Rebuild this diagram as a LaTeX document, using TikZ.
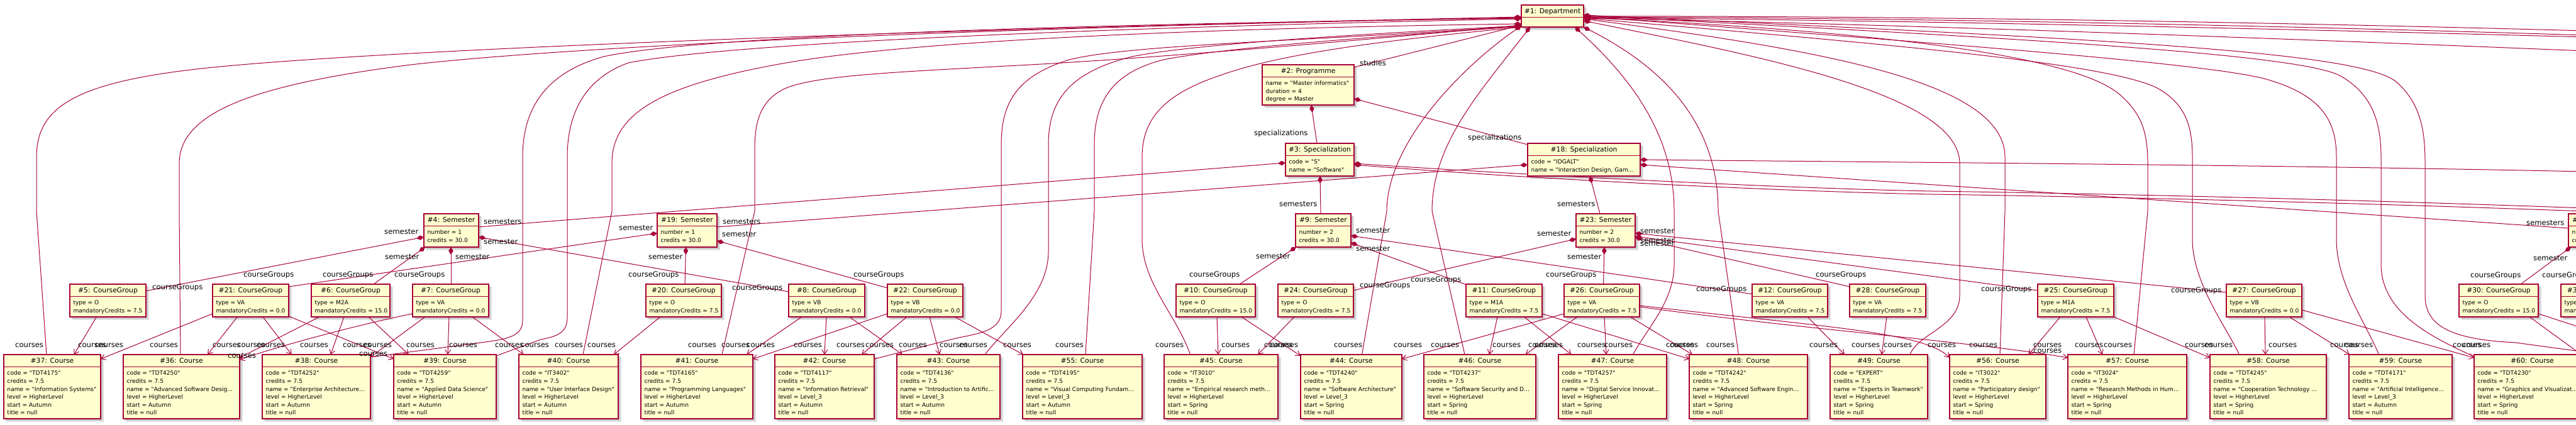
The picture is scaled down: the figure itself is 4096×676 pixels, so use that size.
\documentclass[tikz,border=0pt]{standalone}
\usepackage{fontspec}
\newfontfamily\dv{DejaVu Sans}
\usetikzlibrary{arrows.meta,calc}
\definecolor{lc}{RGB}{168,0,54}
\definecolor{boxfill}{RGB}{254,254,206}
\pgfdeclarelayer{shadowlayer}
\pgfdeclarelayer{linelayer}
\pgfsetlayers{shadowlayer,linelayer,main}
\tikzset{
  link/.style={draw=lc, line width=1pt},
  comp/.style={link, {Diamond[length=12pt,width=7.5pt]}-},
  assoc/.style={link, -{Straight Barb[length=7pt,width=9pt]}},
  objbox/.style={draw=lc, line width=1.4pt, fill=boxfill, rectangle, inner sep=0pt, outer sep=0pt},
  objline/.style={draw=lc, line width=1.2pt},
  titletxt/.style={font=\dv\fontsize{10.8}{13}\selectfont, inner sep=0pt, anchor=base},
  attrtxt/.style={inner sep=0pt, anchor=base west},
  lbl/.style={font=\dv\fontsize{11.6}{14}\selectfont, inner sep=0pt, anchor=base west},
}
\newcommand{\umlobj}[7]{%
  \node[objbox, minimum width=#4pt, minimum height=#5pt, anchor=north west] (#1) at (#2,#3) {};
  \begin{pgfonlayer}{shadowlayer}
    \fill[black, opacity=0.12] ($(#1.north west)+(2,2)$) rectangle ($(#1.south east)+(3,3)$);
    \fill[black, opacity=0.12] ($(#1.north west)+(4,4)$) rectangle ($(#1.south east)+(5,5)$);
  \end{pgfonlayer}
  \draw[objline] ($(#1.north west)+(0,19.3)$) -- ($(#1.north east)+(0,19.3)$);
  \node[titletxt] (#1-t) at ($(#1.north)+(0,13.6)$) {#6};
  \node[attrtxt] (#1-a) at ($(#1.north west)+(5.3,32.8)$) {\parbox[t]{300pt}{\dv\fontsize{9.1}{12.6}\selectfont\raggedright #7}};%
}
\newcommand{\cgroup}[5]{\umlobj{g#1}{#2}{452}{#3}{52}{\##1: CourseGroup}{type = #4\\mandatoryCredits = #5}}
\newcommand{\course}[7]{\umlobj{c#1}{#2}{564}{#3}{102}{\##1: Course}{code = "#4"\\credits = 7.5\\name = #5\\level = #6\\start = #7\\title = null}}
\newcommand{\semobj}[5]{\umlobj{s#1}{#2}{340}{#3}{53}{\##1: Semester}{number = #4\\credits = #5}}

\begin{document}
\begin{tikzpicture}[x=1pt,y=-1pt]
\useasboundingbox (0,0) rectangle (4096,676);

% ---------- objects ----------
\node[objbox, minimum width=99pt, minimum height=35pt, anchor=north west] (dep) at (2419,8) {};
\begin{pgfonlayer}{shadowlayer}
  \fill[black, opacity=0.12] ($(dep.north west)+(2,2)$) rectangle ($(dep.south east)+(3,3)$);
  \fill[black, opacity=0.12] ($(dep.north west)+(4,4)$) rectangle ($(dep.south east)+(5,5)$);
\end{pgfonlayer}
\draw[objline] ($(dep.north west)+(0,19.5)$) -- ($(dep.north east)+(0,19.5)$);
\node[titletxt] (dep-t) at ($(dep.north)+(0,13.8)$) {\#1: Department};

\umlobj{prog}{2007}{103}{146}{64}{\#2: Programme}{name = "Master informatics"\\duration = 4\\degree = Master}
\umlobj{sp3}{2044}{228}{109}{52}{\#3: Specialization}{code = "S"\\name = "Software"}
\umlobj{sp18}{2429}{228}{179}{52}{\#18: Specialization}{code = "IDGALT"\\name = "Interaction Design, Gam...}

\semobj{4}{674}{87}{1}{30.0}
\semobj{19}{1045}{95}{1}{30.0}
\semobj{9}{2060}{88}{2}{30.0}
\semobj{23}{2506}{94}{2}{30.0}
\semobj{29}{4084}{95}{3}{30.0}

\cgroup{5}{111}{121}{O}{7.5}
\cgroup{21}{338}{121}{VA}{0.0}
\cgroup{6}{495}{125}{M2A}{15.0}
\cgroup{7}{656}{121}{VA}{0.0}
\cgroup{20}{1027}{120}{O}{7.5}
\cgroup{8}{1254}{121}{VB}{0.0}
\cgroup{22}{1411}{120}{VB}{0.0}
\cgroup{10}{1870}{126}{O}{15.0}
\cgroup{24}{2032}{120}{O}{7.5}
\cgroup{11}{2331}{121}{M1A}{7.5}
\cgroup{26}{2487}{120}{VA}{7.5}
\cgroup{12}{2786}{120}{VA}{7.5}
\cgroup{28}{2941}{121}{VA}{7.5}
\cgroup{25}{3240}{121}{M1A}{7.5}
\cgroup{27}{3540}{120}{VB}{0.0}
\cgroup{30}{3910}{126}{O}{15.0}
\cgroup{31}{4072}{121}{VA}{0.0}

\course{37}{6}{154}{TDT4175}{"Information Systems"}{HigherLevel}{Autumn}
\course{36}{196}{185}{TDT4250}{"Advanced Software Desig...}{HigherLevel}{Autumn}
\course{38}{417}{172}{TDT4252}{"Enterprise Architecture...}{HigherLevel}{Autumn}
\course{39}{626}{163}{TDT4259}{"Applied Data Science"}{HigherLevel}{Autumn}
\course{40}{825}{158}{IT3402}{"User Interface Design"}{HigherLevel}{Autumn}
\course{41}{1019}{178}{TDT4165}{"Programming Languages"}{HigherLevel}{Autumn}
\course{42}{1232}{158}{TDT4117}{"Information Retrieval"}{Level\_3}{Autumn}
\course{43}{1426}{164}{TDT4136}{"Introduction to Artific...}{Level\_3}{Autumn}
\course{55}{1626}{190}{TDT4195}{"Visual Computing Fundam...}{Level\_3}{Autumn}
\course{45}{1851}{181}{IT3010}{"Empirical research meth...}{HigherLevel}{Spring}
\course{44}{2068}{161}{TDT4240}{"Software Architecture"}{Level\_3}{Spring}
\course{46}{2264}{178}{TDT4237}{"Software Security and D...}{HigherLevel}{Spring}
\course{47}{2478}{172}{TDT4257}{"Digital Service Innovat...}{HigherLevel}{Spring}
\course{48}{2686}{188}{TDT4242}{"Advanced Software Engin...}{HigherLevel}{Spring}
\course{49}{2910}{155}{EXPERT}{"Experts in Teamwork"}{HigherLevel}{Spring}
\course{56}{3100}{153}{IT3022}{"Participatory design"}{HigherLevel}{Spring}
\course{57}{3288}{189}{IT3024}{"Research Methods in Hum...}{HigherLevel}{Spring}
\course{58}{3514}{185}{TDT4245}{"Cooperation Technology ...}{HigherLevel}{Spring}
\course{59}{3735}{164}{TDT4171}{"Artificial Intelligence...}{Level\_3}{Autumn}
\course{60}{3934}{185}{TDT4230}{"Graphics and Visualizat...}{HigherLevel}{Spring}

% off-page ends
\coordinate (offa) at (4110,331);
\coordinate (offb) at (4110,336);
\coordinate (offc) at (4110,273);
\coordinate (offd) at (4110,49);
\coordinate (offe) at (4110,56);
\coordinate (offf) at (4110,59);
\coordinate (offg) at (4110,81);
\coordinate (offh) at (4110,523);
\coordinate (offi) at (4110,568);
\coordinate (offu) at (4110,560);

% ---------- connectors ----------
\begin{pgfonlayer}{linelayer}
% department - programme - specializations - semesters
\draw[comp] ($(dep.north west)+(0,32)$) -- ($(prog.north east)+(0,4)$);
\draw[comp] ($(prog.south west)+(78,0)$) -- ($(sp3.north west)+(50,0)$);
\draw[comp] ($(prog.north east)+(0,54)$) -- ($(sp18.north west)+(0,2)$);
\draw[comp] ($(sp3.north west)+(0,31)$) -- ($(s4.north east)+(0,21)$);
\draw[comp] ($(sp3.south west)+(55,0)$) -- ($(s9.north west)+(40,0)$);
\draw[comp] ($(sp3.north east)+(0,32)$) .. controls (2450,280) and (2850,300) .. (3072,304) .. controls (3400,309) and (3750,318) .. (offa);
\draw[comp] ($(sp3.north east)+(0,34)$) .. controls (2450,286) and (2850,305) .. (3072,309) .. controls (3400,314) and (3750,323) .. (offb);
\draw[comp] ($(sp18.north west)+(0,34)$) -- ($(s19.north east)+(0,21)$);
\draw[comp] ($(sp18.south west)+(99,0)$) -- ($(s23.north west)+(38,0)$);
\draw[comp] ($(sp18.north east)+(0,34)$) -- ($(s29.north west)+(0,23)$);
\draw[comp] ($(sp18.north east)+(0,26)$) .. controls (3000,258) and (3600,262) .. (offc);

% semesters - course groups
\draw[comp] ($(s4.north west)+(0,37)$) -- ($(g5.north east)+(0,10.7)$);
\draw[comp] ($(s4.south west)+(2,0)$) -- ($(g6.north west)+(99,0)$);
\draw[comp] ($(s4.south west)+(43,0)$) -- ($(g7.north west)+(61,0)$);
\draw[comp] ($(s4.north east)+(0,37)$) -- ($(g8.north west)+(0,12)$);
\draw[comp] ($(s19.north west)+(0,31)$) -- ($(g21.north east)+(0,4)$);
\draw[comp] ($(s19.south west)+(45.6,0)$) -- ($(g20.north west)+(62,0)$);
\draw[comp] ($(s19.north east)+(0,43)$) -- ($(g22.north west)+(0,6)$);
\draw[comp] ($(s9.south west)+(1,0)$) -- ($(g10.north west)+(101,0)$);
\draw[comp] ($(s9.north east)+(0,35)$) -- ($(g12.north west)+(0,15.7)$);
\draw[comp] ($(s9.north east)+(0,46)$) -- ($(g11.north west)+(0,0.7)$);
\draw[comp] ($(s23.north west)+(0,40)$) -- ($(g24.north east)+(0,10)$);
\draw[comp] ($(s23.south west)+(45,0)$) -- ($(g26.north west)+(62.5,0)$);
\draw[comp] ($(s23.north east)+(0,38)$) -- ($(g28.north west)+(0,4)$);
\draw[comp] ($(s23.north east)+(0,36)$) -- ($(g25.north west)+(0,10)$);
\draw[comp] ($(s23.north east)+(0,31)$) -- ($(g27.north west)+(0,13)$);
\draw[comp] ($(s29.south west)+(4,0)$) -- ($(g30.north west)+(98,0)$);

% course groups - courses
\draw[assoc] ($(g5.south west)+(42.5,0)$) -- ($(c37.north west)+(111.6,0)$);
\draw[assoc] ($(g21.south west)+(0,-5)$) -- ($(c37.north east)+(0,7)$);
\draw[assoc] ($(g21.south west)+(39.5,0)$) -- ($(c36.north west)+(134,0)$);
\draw[assoc] ($(g21.south west)+(80,0)$) -- ($(c38.north west)+(46.7,0)$);
\draw[assoc] ($(g21.south east)+(0,-1)$) -- ($(c39.north west)+(0,7)$);
\draw[assoc] ($(g6.south west)+(13,0)$) -- ($(c36.north east)+(0,5)$);
\draw[assoc] ($(g6.south west)+(52,0)$) -- ($(c38.north west)+(108.7,0)$);
\draw[assoc] ($(g6.south west)+(91,0)$) -- ($(c39.north west)+(24,0)$);
\draw[assoc] ($(g7.south west)+(0,-5)$) .. controls (590,512) and (460,545) .. ($(c36.north east)+(0,8)$);
\draw[assoc] ($(g7.south west)+(20,0)$) -- ($(c38.north east)+(0,4)$);
\draw[assoc] ($(g7.south west)+(58,0)$) -- ($(c39.north west)+(86,0)$);
\draw[assoc] ($(g7.south west)+(95,0)$) -- ($(c40.north west)+(7.7,0)$);
\draw[assoc] ($(g20.south west)+(23,0)$) -- ($(c40.north west)+(151,0)$);
\draw[assoc] ($(g8.south west)+(21,0)$) -- ($(c41.north west)+(168,0)$);
\draw[assoc] ($(g8.south west)+(60,0)$) -- ($(c42.north west)+(79,0)$);
\draw[assoc] ($(g8.south west)+(96.5,0)$) -- ($(c43.north west)+(9,0)$);
\draw[assoc] ($(g22.south west)+(0,-5)$) -- ($(c41.north east)+(0,7)$);
\draw[assoc] ($(g22.south west)+(31,0)$) -- ($(c42.north west)+(138,0)$);
\draw[assoc] ($(g22.south west)+(67,0)$) -- ($(c43.north west)+(68,0)$);
\draw[assoc] ($(g22.south west)+(107,0)$) -- ($(c55.north west)+(1,0)$);
\draw[assoc] ($(g10.south west)+(65,0)$) -- ($(c45.north west)+(86,0)$);
\draw[assoc] ($(g10.south west)+(104,0)$) -- ($(c44.north west)+(0,2)$);
\draw[assoc] ($(g24.south west)+(26,0)$) -- ($(c45.north west)+(149,0)$);
\draw[assoc] ($(g11.south west)+(50,0)$) -- ($(c46.north west)+(104,0)$);
\draw[assoc] ($(g11.south west)+(92.5,0)$) -- ($(c47.north west)+(20.6,0)$);
\draw[assoc] ($(g11.south east)+(0,-5)$) -- ($(c48.north west)+(0,7)$);
\draw[assoc] ($(g26.south west)+(0,-5)$) -- ($(c44.north east)+(0,7)$);
\draw[assoc] ($(g26.south west)+(21,0)$) -- ($(c46.north west)+(161.5,0)$);
\draw[assoc] ($(g26.south west)+(64,0)$) -- ($(c47.north west)+(76,0)$);
\draw[assoc] ($(g26.south west)+(105,0)$) -- ($(c48.north west)+(5,0)$);
\draw[assoc] ($(g26.north east)+(0,34)$) .. controls (2900,520) and (3060,528) .. ($(c56.north west)+(0,5)$);
\draw[assoc] ($(g26.north east)+(0,36)$) .. controls (2850,522) and (3150,545) .. ($(c57.north west)+(0,5)$);
\draw[assoc] ($(g12.south west)+(88,0)$) -- ($(c49.north west)+(23,0)$);
\draw[assoc] ($(g28.south west)+(59,0)$) -- ($(c49.north west)+(82,0)$);
\draw[assoc] ($(g25.south west)+(36,0)$) -- ($(c56.north west)+(125.5,0)$);
\draw[assoc] ($(g25.south west)+(77,0)$) -- ($(c57.north west)+(55,0)$);
\draw[assoc] (g25.south east) -- ($(c58.north west)+(0,5)$);
\draw[assoc] ($(g27.south west)+(61,0)$) -- ($(c58.north west)+(88,0)$);
\draw[assoc] ($(g27.south west)+(100,0)$) -- ($(c59.north west)+(1,0)$);
\draw[assoc] ($(g27.north east)+(0,41)$) -- ($(c60.north west)+(0,5)$);
\draw[link] ($(g30.south east)+(0,-5)$) -- (offh);
\draw[link] ($(g30.south west)+(112,0)$) -- (offi);

% department - courses (left)
\draw[comp] ($(dep.north west)+(0,19)$) .. controls (1400,48) and (600,80) .. (330,108) .. controls (120,130) and (58,170) .. (58,250) -- (58,336) -- ($(c37.north west)+(68,0)$);
\draw[comp] ($(dep.north west)+(0,20)$) .. controls (1500,45) and (900,75) .. (653,103) .. controls (400,135) and (285,180) .. (285,260) -- (285,336) -- ($(c36.north west)+(91,0)$);
\draw[comp] ($(dep.north west)+(0,21)$) .. controls (1600,40) and (1100,60) .. (960,90) .. controls (870,115) and (831,170) .. (831,250) -- (831,510) .. controls (831,538) and (800,540) .. (757,546) -- ($(c38.north east)+(0,4)$);
\draw[comp] ($(dep.north west)+(0,22)$) .. controls (1700,45) and (1150,70) .. (999,100) .. controls (930,125) and (902,180) .. (902,250) -- (902,505) .. controls (902,530) and (885,535) .. (860,540) -- ($(c39.north east)+(0,2)$);
\draw[comp] ($(dep.north west)+(0,30)$) .. controls (1900,45) and (1450,65) .. (1250,100) .. controls (1050,135) and (973,180) .. (973,260) -- (973,336) -- ($(c40.north west)+(102,0)$);
\draw[comp] ($(dep.north west)+(0,32)$) .. controls (2100,70) and (1800,95) .. (1600,105) .. controls (1420,115) and (1300,120) .. (1250,140) .. controls (1205,160) and (1200,200) .. (1200,240) -- (1200,336) -- ($(c41.north west)+(129,0)$);
\draw[comp] ($(dep.north west)+(0,33)$) .. controls (2100,65) and (1800,70) .. (1700,95) .. controls (1620,120) and (1592,160) .. (1592,230) -- (1592,495) .. controls (1592,525) and (1560,530) .. (1520,538) -- ($(c42.north east)+(0,7)$);
\draw[comp] ($(dep.north west)+(0,33)$) .. controls (2150,55) and (1900,70) .. (1800,90) .. controls (1700,115) and (1667,160) .. (1667,230) -- (1667,400) .. controls (1667,470) and (1600,520) .. ($(c43.north west)+(140,0)$);
\draw[comp] ($(dep.north west)+(0,34)$) .. controls (2200,58) and (1950,75) .. (1850,95) .. controls (1770,115) and (1740,160) .. (1740,230) -- (1740,336) -- ($(c55.north west)+(100,0)$);
\draw[comp] ($(dep.north west)+(0,35)$) .. controls (2250,60) and (2050,80) .. (1940,120) .. controls (1850,150) and (1816,190) .. (1816,250) -- (1816,380) .. controls (1816,450) and (1870,500) .. ($(c45.north west)+(41.6,0)$);
% department - courses (below)
\draw[comp] ($(dep.south west)+(0,-2)$) .. controls (2320,110) and (2205,230) .. (2205,336) -- ($(c44.north west)+(97.5,0)$);
\draw[comp] ($(dep.south west)+(14,0)$) .. controls (2350,150) and (2277,230) .. (2277,336) -- ($(c46.north west)+(65,0)$);
\draw[comp] ($(dep.south west)+(85,0)$) .. controls (2600,130) and (2662,220) .. (2662,336) -- (2662,420) .. controls (2662,480) and (2620,520) .. ($(c47.north west)+(118.6,0)$);
\draw[comp] (dep.south east) .. controls (2650,110) and (2732,200) .. (2732,336) -- ($(c48.north west)+(78.4,0)$);
% department - courses (right)
\draw[comp] ($(dep.north east)+(0,25)$) .. controls (2800,90) and (3116,150) .. (3116,260) -- (3116,470) .. controls (3116,520) and (3050,530) .. ($(c49.north west)+(127,0)$);
\draw[comp] ($(dep.north east)+(0,22)$) .. controls (2900,80) and (3188,130) .. (3188,250) -- (3188,336) -- ($(c56.north west)+(80,0)$);
\draw[comp] ($(dep.north east)+(0,20)$) .. controls (3000,50) and (3300,90) .. (3370,150) .. controls (3405,180) and (3415,210) .. (3415,260) -- (3415,336) -- ($(c57.north west)+(105,0)$);
\draw[comp] ($(dep.north east)+(0,21)$) .. controls (3000,70) and (3350,100) .. (3430,140) .. controls (3475,165) and (3486,200) .. (3486,250) -- (3486,380) .. controls (3486,450) and (3540,520) .. ($(c58.north west)+(46.5,0)$);
\draw[comp] ($(dep.north east)+(0,18)$) .. controls (3100,70) and (3500,100) .. (3600,125) .. controls (3690,150) and (3715,190) .. (3715,250) -- (3715,380) .. controls (3715,450) and (3760,510) .. ($(c59.north west)+(47.5,0)$);
\draw[comp] ($(dep.north east)+(0,17)$) .. controls (3200,60) and (3650,85) .. (3720,120) .. controls (3775,150) and (3786,200) .. (3786,250) -- (3786,420) .. controls (3786,490) and (3850,530) .. ($(c60.north west)+(0,3)$);
\draw[comp] ($(dep.north east)+(0,16)$) .. controls (3300,60) and (3750,80) .. (3810,130) .. controls (3850,165) and (3856,210) .. (3856,260) -- (3856,470) .. controls (3856,520) and (3900,540) .. (4000,545) -- (offu);
\draw[comp] ($(dep.north east)+(0,18)$) .. controls (3000,25) and (3600,35) .. (offd);
\draw[comp] ($(dep.north east)+(0,19)$) .. controls (3000,28) and (3600,40) .. (offe);
\draw[comp] ($(dep.north east)+(0,20)$) .. controls (3000,32) and (3600,45) .. (offf);
\draw[comp] ($(dep.north east)+(0,21)$) .. controls (3000,38) and (3600,60) .. (offg);
\end{pgfonlayer}

% ---------- labels ----------
\node[lbl] (lstudies) at (2162,105) {studies};
\node[lbl] (lspec1) at (1994,216) {specializations};
\node[lbl] (lspec2) at (2334,223) {specializations};
\foreach \x/\y [count=\i] in {769/356,1149/356,2034/328,2476/328,4017/358}
  {\node[lbl] (lsems\i) at (\x,\y) {semesters};}
\foreach \x/\y [count=\i] in {611/372,612/412,724/412,769/388,984/366,1031/412,1148/376,1997/411,2156/370,2156/399,2444/375,2492/412,2608/371,2608/386,2608/391,4028/414}
  {\node[lbl] (lsem\i) at (\x,\y) {semester};}
\foreach \x/\y [count=\i] in {242/460,387/440,513/440,627/440,1164/461,999/440,1357/440,1891/440,2162/457,2243/448,2458/440,2697/463,2887/440,3150/463,3452/465,3928/441,4042/441}
  {\node[lbl] (lcg\i) at (\x,\y) {courseGroups};}
\foreach \x/\y [count=\i] in {24/552,124/552,151/552,238/552,338/552,377/552,408/552,362/569,477/552,545/552,578/552,571/566,646/552,714/552,787/552,828/552,882/552,934/552,1094/552,1147/552,1187/552,1262/552,1330/552,1376/552,1429/552,1494/552,1525/552,1595/552,1678/552,1837/552,1942/552,2010/552,2019/552,2121/552,2216/552,2275/552,2373/552,2430/552,2440/552,2508/552,2551/552,2649/552,2655/552,2713/552,2877/552,2944/552,2995/552,3065/552,3131/552,3233/552,3233/561,3299/552,3345/552,3474/552,3505/552,3607/552,3705/552,3728/552,3900/552,3915/552}
  {\node[lbl] (lco\i) at (\x,\y) {courses};}
\end{tikzpicture}
\end{document}
